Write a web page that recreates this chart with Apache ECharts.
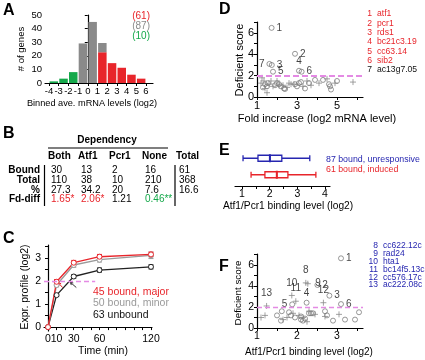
<!DOCTYPE html>
<html><head><meta charset="utf-8">
<script src="https://cdn.jsdelivr.net/npm/echarts@6/dist/echarts.min.js"></script>
<style>html,body{margin:0;padding:0;background:#fff}#c{width:425px;height:360px}</style>
</head><body><div id="c"></div>
<script>
// ---------- Panel A ----------
const aBinStarts = [-4,-3,-2,-1,0,1,2,3,4,5];
const aRed   = [0,0,0,0,0,22.6,14.6,11.2,6.1,3.2];
const aGray  = [0,0,0,29.1,44.9,6.8,0,0,0,0];
const aGreen = [1.2,3.2,8,0,0,0,0,0,0,0];
const aLegend = ['(61)','(87)','(10)'];
const aXTicks = [-4,-3,-2,-1,0,1,2,3,4,5,6];
// ---------- Panel B ----------
const bHeader = ['Both','Atf1','Pcr1','None','Total'];
const bRowNames = ['Bound','Total','%','Fd-diff'];
const bBound = ['30','13','2','16','61'];
const bTotal = ['110','38','10','210','368'];
const bPct   = ['27.3','34.2','20','7.6','16.6'];
const bFd    = ['1.65*','2.06*','1.21','0.46**',''];
// ---------- Panel C ----------
const cTimes = [0,10,30,60,120];
const cMajor   = [0,1.97,2.8,3.06,3.16];
const cMinor   = [0,1.83,2.7,2.93,3.12];
const cUnbound = [0,1.39,2.2,2.48,2.62];
const cMajorErr   = [0,0.1,0.1,0.1,0.1];
const cMinorErr   = [0,0.08,0.1,0.1,0.14];
const cUnboundErr = [0,0.06,0.08,0.09,0.09];
const cLegend = ['45 bound, major','50 bound, minor','63 unbound'];
// ---------- Panel D ----------
const dCircles = [[1.4,1.2],[1.5,1.0],[1.55,1.3],[1.9,1.1],[2.0,1.3],[2.2,1.0],[2.35,0.8],[2.4,0.75],[2.9,1.2],[3.0,1.0],[3.1,1.3],[3.2,1.4],[3.4,0.8],[3.6,1.3],[3.9,1.6],[4.3,1.6],[4.6,1.2],[4.65,1.0],[4.7,0.7],[5.0,1.5],[2.1,1.2],[1.3,0.9]];
const dPluses  = [[1.25,1.8],[1.35,1.5],[1.4,0.8],[1.5,0.4],[1.6,1.2],[1.7,1.5],[1.8,1.0],[2.0,1.5],[2.1,1.1],[2.3,1.1],[2.5,0.9],[2.7,1.2],[2.85,1.2],[3.3,1.0],[3.5,1.5],[3.7,1.1],[4.1,1.3],[4.5,1.7],[4.9,1.3],[5.8,1.4],[1.2,1.3],[2.6,1.3]];
const dLabeled = [[1.73,6.48],[2.9,4.05],[1.74,3.0],[3.1,2.46],[1.8,2.37],[3.23,2.37],[1.62,3.1]];
const dLabelIds = ['1','2','3','4','5','6','7'];
const dGeneIds = ['1','2','3','4','5','6','7'];
const dGenes = ['atf1','pcr1','rds1','bc21c3.19','cc63.14','sib2','ac13g7.05'];
// ---------- Panel E ----------
const eGroups = ['61 bound, induced','87 bound, unresponsive'];
const eBoxes = [[1.33,1.83,2.26,2.66,3.67],[1.04,1.58,2.01,2.44,3.45]];
// ---------- Panel F ----------
const fCircles = [[1.5,1.2],[1.6,0.7],[1.62,1.6],[1.8,1.5],[1.85,1.2],[1.95,1.0],[2.1,0.8],[2.15,0.7],[2.2,0.9],[2.3,1.4],[2.35,1.4],[2.4,1.4],[2.7,1.6],[2.75,1.2],[2.9,0.7],[3.2,0.8],[3.45,0.8],[3.55,1.5],[2.1,1.1]];
const fPluses  = [[1.1,1.0],[1.2,1.2],[1.65,0.8],[1.75,1.0],[1.9,1.4],[2.05,1.2],[2.15,1.0],[2.25,0.6],[2.3,1.6],[2.7,1.1],[3.05,1.3],[2.45,1.3]];
const fLabeledCircles = [[3.1,6.64],[2.51,4.1],[2.81,3.08],[2.24,2.41],[1.88,2.25],[3.1,2.28]];
const fLabeledCircleIds = ['1','2','3','4','5','6'];
const fLabeledPluses = [[2.22,4.3],[2.27,4.22],[1.87,3.1],[1.97,2.55],[2.66,2.41],[1.24,2.1]];
const fLabeledPlusIds = ['8','9','10','11','12','13'];
const fGeneIds = ['8','9','10','11','12','13'];
const fGenes = ['cc622.12c','rad24','hta1','bc14f5.13c','cc576.17c','ac222.08c'];

const FONT = '"Liberation Sans", Arial, Helvetica, sans-serif';
const RED = '#e8252b', GRAY = '#8a8a8a', GREEN = '#14a84a', BLUE = '#2626b0', PINK = '#e48ae4';
const PLUS = 'path://M0,5L10,5M5,0L5,10';

function txt(x, y, s, o) {
  o = o || {};
  return {type:'text', x:x, y:y, rotation:o.rot||0, z:20,
    style:{text:s, fontFamily:FONT, fontSize:o.size||10, fontWeight:o.bold?'bold':'normal',
      fill:o.color||'#000', align:o.align||'left', verticalAlign:'middle'}};
}
function line(x1,y1,x2,y2,w){ return {type:'line', z:20, shape:{x1:x1,y1:y1,x2:x2,y2:y2}, style:{stroke:'#000', lineWidth:w||1}}; }

function vAxis(grid, min, max, extra) {
  return Object.assign({type:'value', gridIndex:grid, min:min, max:max,
    axisLine:{show:true, lineStyle:{color:'#000', width:1.2}},
    splitLine:{show:false}}, extra);
}
function ticks(values, len) { return {show:true, length:len||3, customValues:values, lineStyle:{color:'#000', width:1}}; }
function labels(values, size, margin) { return {show:true, customValues:values, color:'#000', fontFamily:FONT, fontSize:size||10, margin:margin||3}; }

const range = (a,b,s) => { const r=[]; for (let v=a; v<=b+1e-9; v+=s) r.push(+v.toFixed(4)); return r; };

// ----- bars of panel A (stack red, gray, green)
const aBars = [];
aBinStarts.forEach((s,i) => {
  let base = 0;
  [[aRed[i],0],[aGray[i],1],[aGreen[i],2]].forEach(([v,c]) => {
    if (v > 0) { aBars.push([s, s+1, base, base+v, c]); base += v; }
  });
});
const aColors = [RED, GRAY, GREEN];

function errData(vals, errs){ return cTimes.map((t,i)=>[t, vals[i]-errs[i], vals[i]+errs[i]]).filter((d,i)=>errs[i]>0); }
function errSeries(data, color){
  return {type:'custom', xAxisIndex:1, yAxisIndex:1, z:3, data:data,
    renderItem:(p, api) => {
      const a = api.coord([api.value(0), api.value(1)]);
      const b = api.coord([api.value(0), api.value(2)]);
      const st = {stroke:color, lineWidth:1};
      return {type:'group', children:[
        {type:'line', shape:{x1:a[0],y1:a[1],x2:b[0],y2:b[1]}, style:st},
        {type:'line', shape:{x1:a[0]-2.5,y1:a[1],x2:a[0]+2.5,y2:a[1]}, style:st},
        {type:'line', shape:{x1:b[0]-2.5,y1:b[1],x2:b[0]+2.5,y2:b[1]}, style:st}
      ]};
    }};
}
function cLine(vals, color){
  return {type:'line', xAxisIndex:1, yAxisIndex:1, z:4, data:cTimes.map((t,i)=>[t, vals[i]]),
    symbol:'circle', symbolSize:5, lineStyle:{color:color, width:1.3},
    itemStyle:{color:'#fff', borderColor:color, borderWidth:1}, animation:false};
}
function labeledPts(pts, ids, posMap){
  return pts.map((p,i)=>({value:p, label:{show:true, formatter:ids[i], position:posMap[ids[i]]||'right',
    distance:2, color:'#111', fontFamily:FONT, fontSize:10}}));
}
const dPos = {'1':'right','2':'right','3':'right','4':'top','5':'right','6':'right','7':'left'};
const fPos = {'1':'right','2':'right','3':'right','4':'top','5':'left','6':'right','8':'top','9':'right','10':'top','11':'top','12':'top','13':'top'};
const circleStyle = {color:'rgba(255,255,255,0)', borderColor:'#707070', borderWidth:0.9};
const plusStyle = {color:'none', borderColor:'#8a8a8a', borderWidth:1};

const chart = echarts.init(document.getElementById('c'), null, {renderer:'canvas'});
const option = {
  animation:false,
  backgroundColor:'#fff',
  textStyle:{fontFamily:FONT},
  grid:[
    {left:45, top:15, width:108, height:68},
    {left:44, top:245, width:108, height:86},
    {left:257, top:22, width:106, height:75},
    {left:235, top:150, width:95, height:33},
    {left:257, top:254, width:106, height:74}
  ],
  xAxis:[
    vAxis(0, -4.41, 6.72, {axisTick:ticks(aXTicks), axisLabel:labels(aXTicks, 9.5)}),
    vAxis(1, -4.66, 121.2, {axisTick:ticks(range(0,120,10)), axisLabel:labels([0,10,30,60,120], 10.5)}),
    vAxis(2, 1, 6.3, {axisTick:ticks([1,2,3,4,5,6]), axisLabel:labels([1,3,5], 11)}),
    vAxis(3, 0.75, 4.18, {offset:3, axisTick:ticks(range(1,4,0.5)), axisLabel:labels([1,2,3,4], 10.5)}),
    vAxis(4, 1, 3.65, {axisTick:ticks(range(1,3.5,0.5)), axisLabel:labels([1,2,3], 10.5)})
  ],
  yAxis:[
    vAxis(0, 0, 50, {axisTick:ticks(range(0,50,10)), axisLabel:labels(range(0,50,10), 9.5)}),
    vAxis(1, -0.17, 3.57, {axisTick:ticks(range(0,3.5,0.5)), axisLabel:labels([0,1,2,3], 10.5)}),
    vAxis(2, 0, 7.03, {axisTick:ticks([0,1,2,3,4,5,6,7]), axisLabel:labels([0,2,4,6], 11)}),
    {type:'category', gridIndex:3, data:eGroups, show:false},
    vAxis(4, 0, 7.05, {axisTick:ticks([0,1,2,3,4,5,6,7]), axisLabel:labels([0,2,4,6], 10.5)})
  ],
  series:[
    // A bars
    {type:'custom', xAxisIndex:0, yAxisIndex:0, data:aBars,
      renderItem:(p, api) => {
        const a = api.coord([api.value(0), api.value(3)]);
        const b = api.coord([api.value(1), api.value(2)]);
        return {type:'rect', shape:{x:a[0]+0.6, y:a[1], width:b[0]-a[0]-1.2, height:b[1]-a[1]},
          style:{fill:aColors[api.value(4)]}};
      }},
    // C
    errSeries(errData(cUnbound, cUnboundErr), '#222'),
    errSeries(errData(cMinor, cMinorErr), '#999'),
    errSeries(errData(cMajor, cMajorErr), RED),
    cLine(cUnbound, '#222'),
    cLine(cMinor, '#9a9a9a'),
    Object.assign(cLine(cMajor, RED), {markLine:{silent:true, symbol:'none', label:{show:false},
      lineStyle:{color:PINK, type:[5,3], width:1.3}, data:[[{coord:[-4.66,2]},{coord:[55,2]}]]}}),
    // D
    {type:'scatter', xAxisIndex:2, yAxisIndex:2, symbol:'circle', symbolSize:5, itemStyle:circleStyle, data:dCircles,
      markLine:{silent:true, symbol:'none', label:{show:false}, lineStyle:{color:PINK, type:[6,3], width:2},
        data:[[{coord:[1,2]},{coord:[6.3,2]}]]}},
    {type:'scatter', xAxisIndex:2, yAxisIndex:2, symbol:PLUS, symbolSize:6, itemStyle:plusStyle, data:dPluses},
    {type:'scatter', xAxisIndex:2, yAxisIndex:2, symbol:'circle', symbolSize:5, itemStyle:circleStyle,
      data:labeledPts(dLabeled, dLabelIds, dPos)},
    // E
    {type:'boxplot', xAxisIndex:3, yAxisIndex:3, boxWidth:[6,6],
      data:[
        {value:eBoxes[0], itemStyle:{color:'#fff', borderColor:RED, borderWidth:1.3}},
        {value:eBoxes[1], itemStyle:{color:'#fff', borderColor:BLUE, borderWidth:1.3}}
      ]},
    {type:'custom', xAxisIndex:3, yAxisIndex:3, z:5, data:eBoxes.map((b,i)=>[b[2], i]),
      renderItem:(p, api) => {
        const c = api.coord([api.value(0), api.value(1)]);
        return {type:'line', shape:{x1:c[0], y1:c[1]-4, x2:c[0], y2:c[1]+4},
          style:{stroke:api.value(1) === 0 ? RED : BLUE, lineWidth:2}};
      }},
    // F
    {type:'scatter', xAxisIndex:4, yAxisIndex:4, symbol:'circle', symbolSize:5, itemStyle:circleStyle, data:fCircles,
      markLine:{silent:true, symbol:'none', label:{show:false}, lineStyle:{color:PINK, type:[5,3], width:1.3},
        data:[[{coord:[1,2]},{coord:[3.65,2]}]]}},
    {type:'scatter', xAxisIndex:4, yAxisIndex:4, symbol:PLUS, symbolSize:6, itemStyle:plusStyle, data:fPluses},
    {type:'scatter', xAxisIndex:4, yAxisIndex:4, symbol:'circle', symbolSize:5, itemStyle:circleStyle,
      data:labeledPts(fLabeledCircles, fLabeledCircleIds, fPos)},
    {type:'scatter', xAxisIndex:4, yAxisIndex:4, symbol:PLUS, symbolSize:6, itemStyle:plusStyle,
      data:labeledPts(fLabeledPluses, fLabeledPlusIds, fPos)}
  ]
};

// ---------- graphic texts ----------
const g = [];
[['A',3,11],['B',3,134],['C',3,239],['D',219,10],['E',219,151],['F',219,267]].forEach(([s,x,y])=>g.push(txt(x,y,s,{size:16,bold:true})));
// A
g.push(txt(21,49,'# of genes',{rot:Math.PI/2, align:'center', size:9.5}));
g.push(txt(92,103,'Binned ave. mRNA levels (log2)',{align:'center', size:9.2}));
[RED, GRAY, GREEN].forEach((c,i)=>g.push(txt(150,16+i*10,aLegend[i],{align:'right', color:c})));
// B table
g.push(txt(107,140,'Dependency',{align:'center', bold:true}));
g.push(line(48,148,168,148,1.2));
const colX = [49,79,110,143,177];
bHeader.forEach((h,i)=>g.push(txt(colX[i]-1,156,h,{bold:true})));
const rowY = [170,180.5,190,199.5];
bRowNames.forEach((r,i)=>g.push(txt(40,rowY[i],r,{bold:true, align:'right'})));
[bBound,bTotal,bPct].forEach((row,ri)=>row.forEach((v,ci)=>g.push(txt(colX[ci]+2,rowY[ri],v))));
const fdColors = [RED, RED, '#000', GREEN, '#000'];
bFd.forEach((v,ci)=>{ if(v) g.push(txt(colX[ci]+2,rowY[3],v,{color:fdColors[ci]})); });
g.push(line(44.5,165,44.5,206,1.2));
g.push(line(175,165,175,206,1.2));
// C
g.push(txt(25,287,'Expr. profile (log2)',{rot:Math.PI/2, align:'center', size:10.5}));
g.push(txt(103,351,'Time (min)',{align:'center', size:10.5}));
[RED,'#9a9a9a','#111'].forEach((c,i)=>g.push(txt(93,292+i*11.5,cLegend[i],{color:c, size:10.5})));
// D
g.push(txt(240,60,'Deficient score',{rot:Math.PI/2, align:'center', size:11}));
g.push(txt(317,119,'Fold increase (log2 mRNA level)',{align:'center', size:11}));
dGenes.forEach((s,i)=>{
  const c = i < 6 ? RED : '#111';
  g.push(txt(372,14+i*9.3,dGeneIds[i],{align:'right', size:8.6, color:c}));
  g.push(txt(377,14+i*9.3,s,{size:8.6, color:c}));
});
// E
g.push(txt(326,160,'87 bound, unresponsive',{color:BLUE, size:8.8}));
g.push(txt(326,170,'61 bound, induced',{color:RED, size:8.8}));
g.push(txt(288,206,'Atf1/Pcr1 binding level (log2)',{align:'center', size:10.2}));
// F
g.push(txt(238,293,'Deficient score',{rot:Math.PI/2, align:'center', size:9.8}));
g.push(txt(309,352,'Atf1/Pcr1 binding level (log2)',{align:'center', size:10}));
fGenes.forEach((s,i)=>{
  g.push(txt(378,246+i*7.8,fGeneIds[i],{align:'right', size:8.5, color:BLUE}));
  g.push(txt(383,246+i*7.8,s,{size:8.5, color:BLUE}));
});
option.graphic = g;
chart.setOption(option);

// small arrows in panel C (placed in data coordinates)
function arrow(from, to, color){
  const a = chart.convertToPixel({gridIndex:1}, from);
  const b = chart.convertToPixel({gridIndex:1}, to);
  const ang = Math.atan2(b[1]-a[1], b[0]-a[0]);
  const h = 3;
  const p1 = [b[0]-h*Math.cos(ang-0.5), b[1]-h*Math.sin(ang-0.5)];
  const p2 = [b[0]-h*Math.cos(ang+0.5), b[1]-h*Math.sin(ang+0.5)];
  return {type:'group', z:30, children:[
    {type:'line', shape:{x1:a[0],y1:a[1],x2:b[0],y2:b[1]}, style:{stroke:color, lineWidth:1}},
    {type:'polyline', shape:{points:[p1,b,p2]}, style:{stroke:color, lineWidth:1, fill:null}}
  ]};
}
chart.setOption({graphic: g.concat([arrow([33,1.72],[26,1.95],'#333'), arrow([17,1.72],[12,1.93],RED)])});
</script></body></html>
